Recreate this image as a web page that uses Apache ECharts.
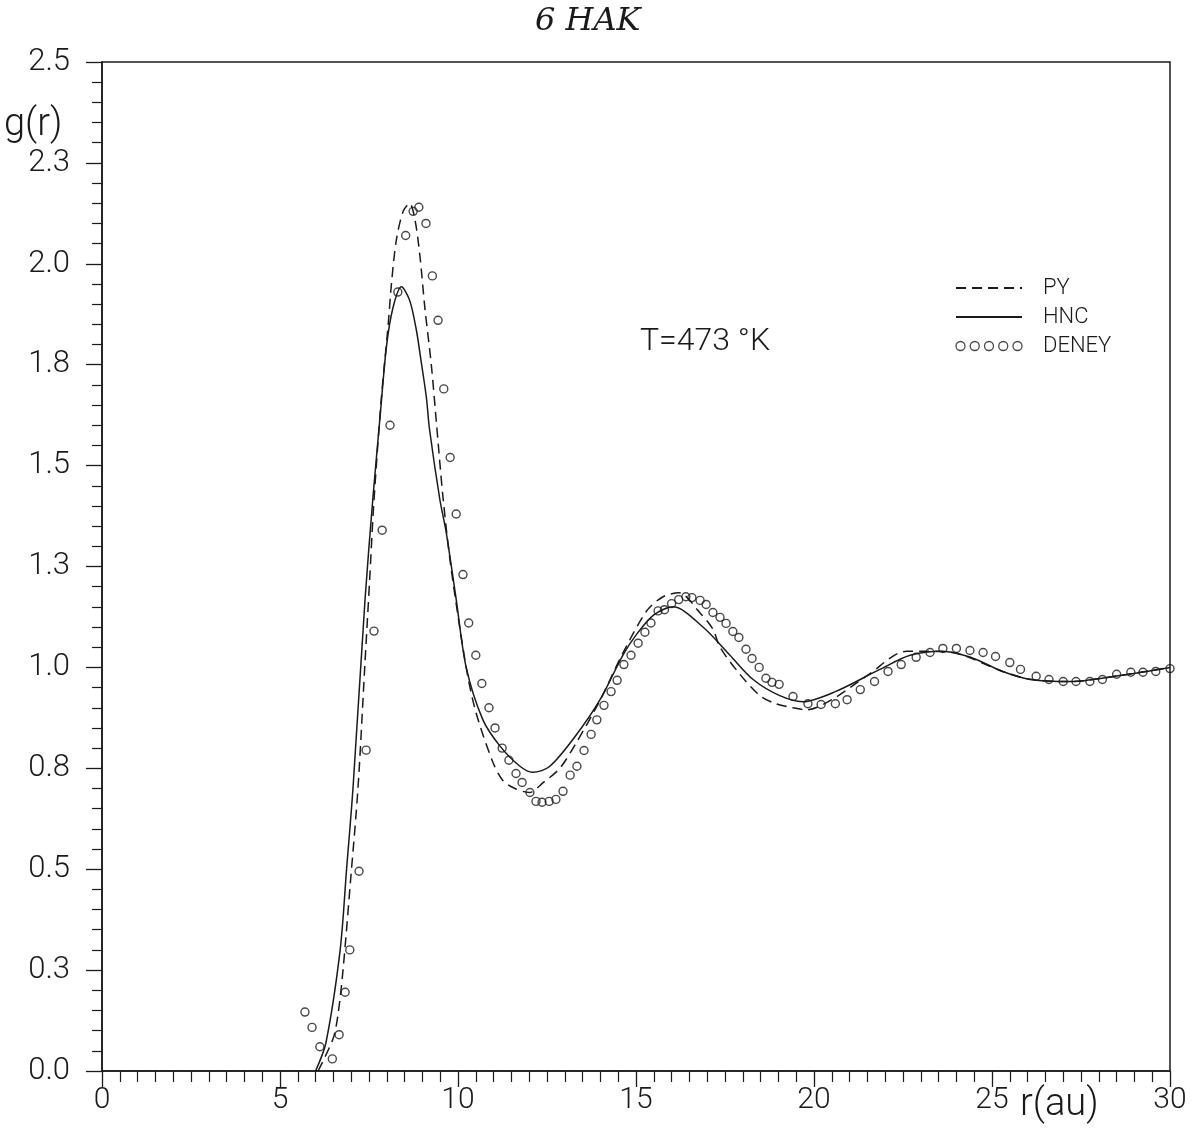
<!DOCTYPE html>
<html>
<head>
<meta charset="utf-8">
<script src="https://cdn.jsdelivr.net/npm/echarts@6/dist/echarts.min.js"></script>
<style>
html,body{margin:0;padding:0;background:#fff;}
#chart{width:1203px;height:1131px;}
</style>
</head>
<body>
<div id="chart"></div>
<script>
// ---- data ----
const xTickLabels = ["0", "5", "10", "15", "20", "25", "30"];
const yTickLabels = ["0.0", "0.3", "0.5", "0.8", "1.0", "1.3", "1.5", "1.8", "2.0", "2.3", "2.5"];

const hncR = [6.0,6.29,6.69,6.87,7.05,7.39,7.61,7.82,7.99,8.17,8.41,8.64,8.83,8.97,9.11,9.2,9.49,9.67,9.95,10.23,10.70,11.18,11.74,12.1,12.58,13.3,13.99,14.63,15.0,15.5,16.04,16.88,17.64,18.29,19.04,19.69,20.6,21.85,22.7,23.6,24.4,25.3,26.1,27.2,28.6,30.0];
const hncG = [0.0,0.07,0.30,0.50,0.70,1.17,1.42,1.63,1.795,1.89,1.943,1.91,1.836,1.755,1.67,1.59,1.416,1.334,1.168,1.0,0.87,0.805,0.755,0.74,0.755,0.83,0.92,1.03,1.08,1.13,1.15,1.10,1.03,0.97,0.93,0.915,0.94,0.995,1.03,1.04,1.025,0.99,0.97,0.965,0.98,1.0];

const pyR = [6.07,6.49,6.63,6.77,6.98,7.19,7.38,7.52,7.63,7.84,8.03,8.13,8.27,8.46,8.64,8.79,8.93,9.07,9.25,9.39,9.58,9.80,10.23,10.5,10.98,11.26,11.6,12.0,12.4,12.86,13.3,14.0,14.6,15.3,15.76,16.2,16.8,17.16,17.36,17.9,18.48,18.93,19.4,19.8,20.5,21.5,22.6,23.2,24.0,25.3,26.1,27.2,28.6,30.0];
const pyG = [0.0,0.08,0.14,0.25,0.47,0.70,1.0,1.22,1.40,1.66,1.84,1.95,2.06,2.13,2.15,2.11,2.02,1.89,1.75,1.61,1.42,1.25,1.0,0.89,0.765,0.72,0.70,0.69,0.715,0.75,0.81,0.92,1.03,1.14,1.175,1.185,1.135,1.095,1.05,0.985,0.93,0.91,0.90,0.895,0.92,0.98,1.04,1.04,1.035,0.99,0.97,0.965,0.98,1.0];

const deneyR = [5.7,5.9,6.12,6.47,6.66,6.83,6.96,7.22,7.42,7.64,7.87,8.09,8.31,8.53,8.74,8.9,9.1,9.28,9.44,9.6,9.78,9.95,10.14,10.3,10.5,10.67,10.87,11.04,11.24,11.43,11.63,11.8,12.02,12.19,12.36,12.56,12.75,12.95,13.15,13.34,13.54,13.74,13.9,14.1,14.3,14.47,14.66,14.86,15.06,15.25,15.42,15.62,15.8,16.0,16.2,16.4,16.57,16.8,16.97,17.16,17.36,17.53,17.72,17.89,18.09,18.26,18.46,18.65,18.82,19.02,19.41,19.83,20.2,20.6,20.93,21.3,21.7,22.08,22.45,22.87,23.26,23.62,24.0,24.38,24.75,25.1,25.5,25.8,26.24,26.6,27.0,27.36,27.75,28.1,28.5,28.9,29.24,29.6,30.0];
const deneyG = [0.146,0.108,0.06,0.03,0.09,0.195,0.30,0.495,0.795,1.09,1.34,1.60,1.93,2.07,2.13,2.14,2.10,1.97,1.86,1.69,1.52,1.38,1.23,1.11,1.03,0.96,0.90,0.85,0.80,0.77,0.737,0.715,0.69,0.668,0.666,0.668,0.673,0.693,0.733,0.755,0.794,0.834,0.87,0.906,0.94,0.968,1.007,1.03,1.06,1.087,1.11,1.14,1.143,1.158,1.168,1.175,1.173,1.166,1.156,1.136,1.124,1.109,1.089,1.074,1.045,1.022,1.0,0.973,0.963,0.958,0.928,0.91,0.908,0.91,0.92,0.945,0.965,0.99,1.007,1.025,1.037,1.047,1.047,1.042,1.037,1.027,1.012,0.995,0.978,0.97,0.965,0.965,0.965,0.97,0.983,0.988,0.988,0.99,0.997];

const seriesNames = ["PY", "HNC", "DENEY"];
const chartTitle = "6 HAK";
const annotation = "T=473 °K";
const xName = "r(au)";
const yName = "g(r)";

// ---- build ----
const zip = (a, b) => a.map((v, i) => [v, b[i]]);
const INK = '#1a1a1a';
const FONT = 'Roboto, "Liberation Sans", sans-serif';

const fivecircles = 'path://M0,4.5a4.5,4.5 0 1,0 9,0a4.5,4.5 0 1,0 -9,0' +
  'M14.25,4.5a4.5,4.5 0 1,0 9,0a4.5,4.5 0 1,0 -9,0' +
  'M28.5,4.5a4.5,4.5 0 1,0 9,0a4.5,4.5 0 1,0 -9,0' +
  'M42.75,4.5a4.5,4.5 0 1,0 9,0a4.5,4.5 0 1,0 -9,0' +
  'M57,4.5a4.5,4.5 0 1,0 9,0a4.5,4.5 0 1,0 -9,0';

const chart = echarts.init(document.getElementById('chart'), null, {renderer: 'canvas'});
chart.setOption({
  animation: false,
  backgroundColor: '#fff',
  grid: {left: 102, right: 33, top: 62, bottom: 60, show: true, borderColor: INK, borderWidth: 1.5, backgroundColor: 'transparent'},
  legend: {
    orient: 'vertical', left: 955, top: 277, padding: 0,
    itemWidth: 66, itemHeight: 9, itemGap: 7,
    textStyle: {fontSize: 22, color: INK, fontFamily: FONT, fontWeight: 300, padding: [0, 0, 0, 16]},
    data: [
      {name: seriesNames[0], itemStyle: {opacity: 0}},
      {name: seriesNames[1], itemStyle: {opacity: 0}},
      {name: seriesNames[2], icon: fivecircles, itemStyle: {color: 'transparent', borderColor: INK, borderWidth: 1.3}}
    ]
  },
  xAxis: {
    type: 'value', min: 0, max: 30, interval: 5,
    axisLine: {show: true, lineStyle: {color: INK, width: 1.5}},
    axisTick: {show: true, length: 16, lineStyle: {color: INK, width: 1.3}},
    minorTick: {show: true, splitNumber: 10, length: 11, lineStyle: {color: INK, width: 1.2}},
    splitLine: {show: false},
    axisLabel: {margin: 14, fontSize: 30, color: INK, fontFamily: FONT, fontWeight: 300,
      formatter: v => xTickLabels[Math.round(v / 5)]}
  },
  yAxis: {
    type: 'value', min: 0, max: 2.5, interval: 0.25,
    axisLine: {show: true, lineStyle: {color: INK, width: 1.5}},
    axisTick: {show: true, length: 16, lineStyle: {color: INK, width: 1.3}},
    minorTick: {show: true, splitNumber: 5, length: 10, lineStyle: {color: INK, width: 1.2}},
    splitLine: {show: false},
    axisLabel: {margin: 32, fontSize: 31, color: INK, fontFamily: FONT, fontWeight: 300,
      formatter: v => yTickLabels[Math.round(v / 0.25)]}
  },
  graphic: [
    {type: 'text', left: 535, top: 6, style: {text: chartTitle, fontSize: 32, fontStyle: 'italic', fontFamily: '"DejaVu Serif", serif', fill: INK}},
    {type: 'text', left: 640, top: 326, style: {text: annotation, fontSize: 32, fontFamily: FONT, fontWeight: 300, fill: INK}},
    {type: 'text', left: 4, top: 106, style: {text: yName, fontSize: 38, fontFamily: FONT, fontWeight: 300, fill: INK}},
    {type: 'text', left: 1020, top: 1086, style: {text: xName, fontSize: 38, fontFamily: FONT, fontWeight: 300, fill: INK}}
  ],
  series: [
    {name: seriesNames[0], type: 'line', data: zip(pyR, pyG), symbol: 'none', smooth: 0.3,
      lineStyle: {color: INK, width: 1.5, type: [10, 6]}, itemStyle: {color: INK}, z: 2},
    {name: seriesNames[1], type: 'line', data: zip(hncR, hncG), symbol: 'none', smooth: 0.3,
      lineStyle: {color: INK, width: 1.5, type: 'solid'}, itemStyle: {color: INK}, z: 2},
    {name: seriesNames[2], type: 'scatter', data: zip(deneyR, deneyG), symbol: 'circle', symbolSize: 8,
      itemStyle: {color: 'transparent', borderColor: INK, borderWidth: 1.4}, z: 3}
  ]
});
</script>
</body>
</html>
